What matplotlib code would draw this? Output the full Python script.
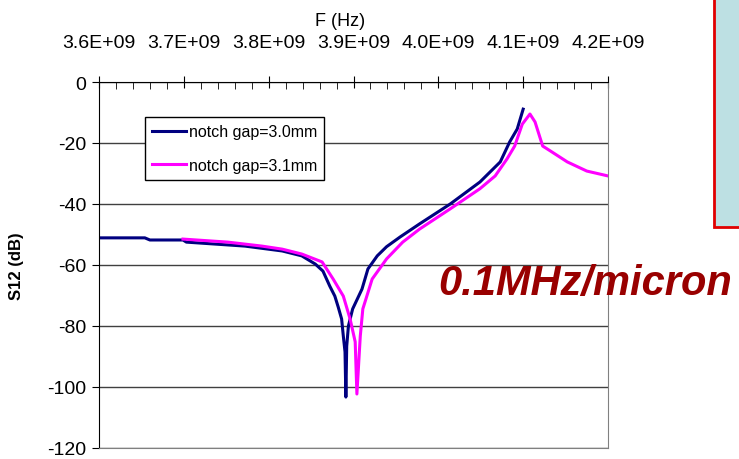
import matplotlib
matplotlib.use("Agg")
import matplotlib.pyplot as plt
from matplotlib.patches import Rectangle
from matplotlib.ticker import MultipleLocator, FuncFormatter

plt.rcParams['font.family'] = ['Liberation Sans', 'DejaVu Sans']
plt.rcParams['axes.unicode_minus'] = False

# S12 vs frequency (GHz, dB) for the two notch gaps
f_30 = [3.600, 3.654, 3.660, 3.699, 3.703, 3.772, 3.816, 3.839, 3.855, 3.864,
        3.872, 3.878, 3.882, 3.886, 3.888, 3.890, 3.891, 3.892, 3.894, 3.899,
        3.910, 3.917, 3.928, 3.939, 3.955, 3.978, 4.014, 4.049, 4.073, 4.084,
        4.093, 4.100]
s12_30 = [-51.1, -51.1, -51.8, -51.8, -52.5, -53.8, -55.4, -57.0, -59.7, -62.0,
          -66.9, -70.2, -73.8, -77.7, -83.3, -88.5, -103.3, -86.6, -80.0, -74.4,
          -67.9, -61.3, -57.0, -54.0, -50.8, -46.5, -40.0, -32.8, -26.2, -19.7,
          -15.4, -8.9]

f_31 = [3.699, 3.752, 3.792, 3.816, 3.839, 3.863, 3.876, 3.888, 3.896, 3.902,
        3.904, 3.908, 3.911, 3.922, 3.939, 3.958, 3.978, 4.014, 4.049, 4.067,
        4.081, 4.090, 4.099, 4.108, 4.114, 4.123, 4.132, 4.152, 4.175, 4.200]
s12_31 = [-51.5, -52.5, -53.8, -54.8, -56.4, -59.0, -64.6, -70.2, -77.7, -85.2,
          -102.3, -83.3, -74.4, -64.6, -58.0, -52.5, -48.2, -41.6, -35.0, -30.8,
          -25.2, -21.0, -13.8, -10.5, -13.1, -21.0, -22.6, -26.2, -29.2, -30.8]

labels = ['notch gap=3.0mm', 'notch gap=3.1mm']

fig = plt.figure(figsize=(7.39, 4.60), dpi=100)
ax = fig.add_axes([99 / 739, 1 - 449 / 460, 509 / 739, 366 / 460])

ax.plot([v * 1e9 for v in f_30], s12_30, color='#000080', lw=2.2, label=labels[0])
ax.plot([v * 1e9 for v in f_31], s12_31, color='#ff00ff', lw=2.2, label=labels[1])

ax.set_xlim(3.6e9, 4.2e9)
ax.set_ylim(-120, 0)

# frequency axis on top, excel style
ax.xaxis.tick_top()
ax.xaxis.set_label_position('top')
ax.xaxis.set_major_locator(MultipleLocator(0.1e9))
ax.xaxis.set_minor_locator(MultipleLocator(0.02e9))
ax.xaxis.set_major_formatter(FuncFormatter(lambda v, p: f"{v / 1e9:.1f}E+09"))
ax.tick_params(axis='x', which='major', direction='inout', length=8, pad=18,
               labelsize=14)
ax.tick_params(axis='x', which='minor', direction='in', length=5)
ax.set_xlabel('F (Hz)', fontsize=13)
ax.xaxis.set_label_coords((340 - 99) / 509, 1 + (83 - 21) / 366)
ax.xaxis.label.set_va('center')

ax.yaxis.set_major_locator(MultipleLocator(20))
ax.tick_params(axis='y', direction='out', length=5, labelsize=14, pad=4)
ax.set_ylabel('S12 (dB)', fontsize=12, fontweight='bold')
ax.yaxis.set_label_coords((24 - 99) / 509, 0.5)

ax.yaxis.grid(True, color='#404040', lw=1.0)
ax.set_axisbelow(True)
ax.spines['top'].set_color('black')
ax.spines['left'].set_color('black')
ax.spines['right'].set_color('#808080')
ax.spines['bottom'].set_color('#808080')

ax.legend(loc='upper left', bbox_to_anchor=(0.090, 0.904), borderaxespad=0,
          fontsize=11.5, frameon=True, fancybox=False, framealpha=1,
          edgecolor='black', handlelength=2.1, handletextpad=0.2,
          labelspacing=1.15, borderpad=0.45)

# shaded note box at the upper right corner
fig.add_artist(Rectangle((714 / 739, 1 - 228 / 460), 0.2, 0.6,
                         transform=fig.transFigure, facecolor='#bde0e3',
                         edgecolor='#e00000', lw=2, clip_on=False))

fig.text(438 / 739, 1 - 295 / 460, '0.1MHz/micron', color='#990000',
         fontsize=30, fontweight='bold', fontstyle='italic', va='baseline',
         ha='left')

fig.savefig('out.png', dpi=100)
